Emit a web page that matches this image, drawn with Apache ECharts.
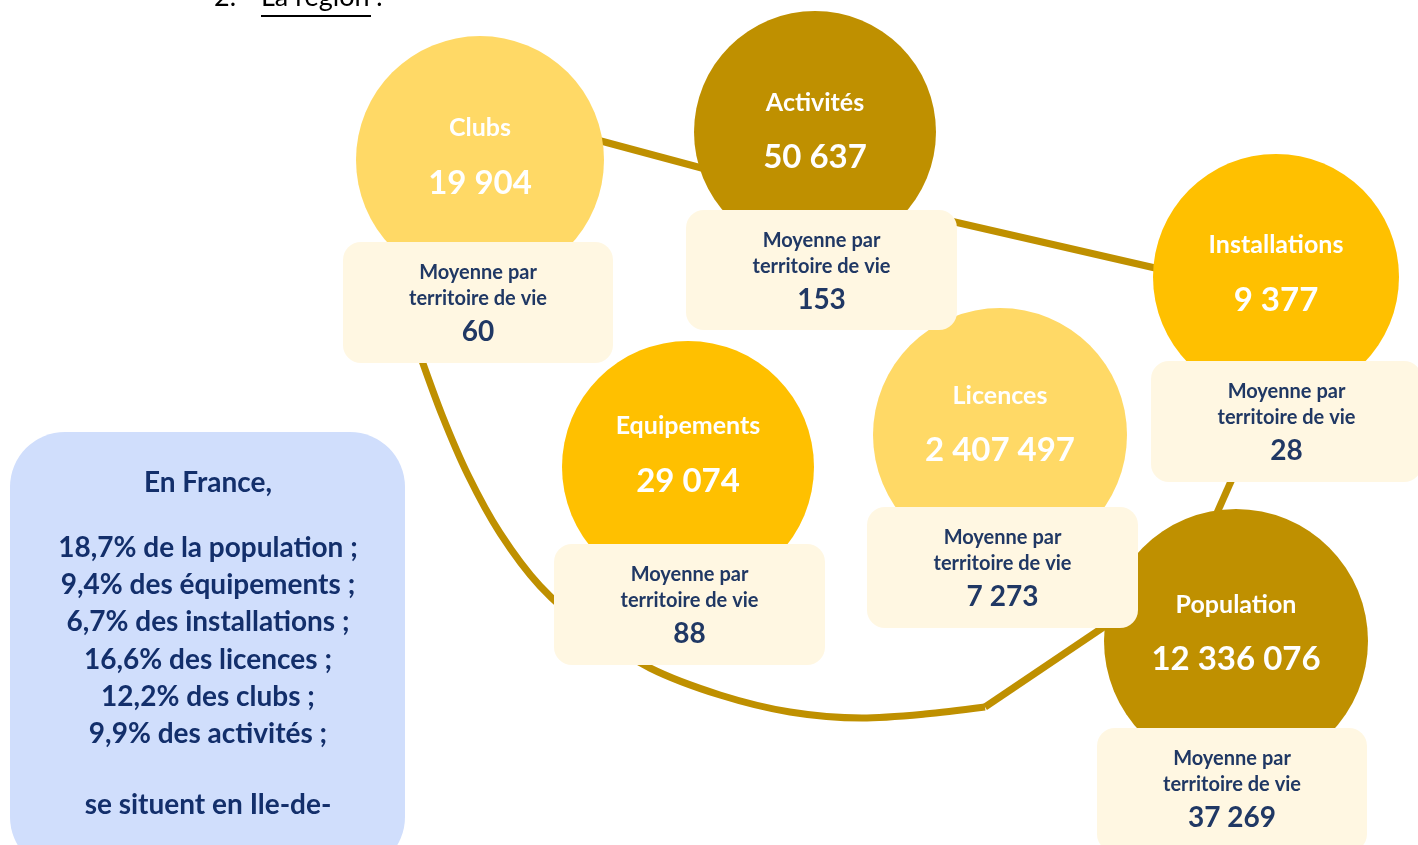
<!DOCTYPE html>
<html>
<head>
<meta charset="utf-8">
<script src="https://cdn.jsdelivr.net/npm/echarts@6/dist/echarts.min.js"></script>
<style>
html,body{margin:0;padding:0;background:#fff;}
#main{width:1418px;height:845px;}
</style>
</head>
<body>
<div id="main"></div>
<script>
// indicateurs de la région
var names = ['Clubs', 'Activités', 'Installations', 'Licences', 'Equipements', 'Population'];
var totals = [19904, 50637, 9377, 2407497, 29074, 12336076];
var averages = [60, 153, 28, 7273, 88, 37269];
var franceTitle = 'En France,';
var franceLines = ['18,7% de la population ;', '9,4% des équipements ;', '6,7% des installations ;',
    '16,6% des licences ;', '12,2% des clubs ;', '9,9% des activités ;'];
var franceEnd = 'se situent en Ile-de-';

// mise en page (pixels)
var centers = [[480, 160], [815, 132], [1276, 277], [1000, 435], [688, 467], [1236, 641]];
var radius = [124, 121, 123, 127, 126, 132];
var colors = ['#FFD966', '#BF9000', '#FFC000', '#FFD966', '#FFC000', '#BF9000'];
var labelY = [128, 103, 245, 396, 426, 605];
var valueY = [183, 157, 300, 450, 481, 659];
var boxes = [[343, 242, 270, 121], [686, 210, 271, 120], [1151, 361, 271, 121],
    [867, 507, 271, 121], [554, 544, 271, 121], [1097, 728, 270, 124]];
var linkCurve = [[420, 355], [442, 415], [468, 475], [500, 533], [540, 586], [590, 630],
    [650, 668], [720, 695], [790, 712], [862, 718], [925, 714], [985, 707]];
var linkSegments = [
    [[560, 130], [750, 181]],
    [[920, 214], [1190, 276]],
    [[1236, 470], [1205, 540]],
    [[985, 707], [1120, 616]]
];

var fmt = function(n) {
    return String(n).replace(/\B(?=(\d{3})+(?!\d))/g, ' ');
};
var navy = '#203864';
var gold = '#BF9000';
var font = 'Lato';

var myChart = echarts.init(document.getElementById('main'));

var series = [];
series.push({
    type: 'line', data: linkCurve, smooth: 0.3, showSymbol: false, z: 1,
    lineStyle: { color: gold, width: 7 }, silent: true
});
linkSegments.forEach(function(seg) {
    series.push({
        type: 'line', data: seg, showSymbol: false, z: 1,
        lineStyle: { color: gold, width: 7 }, silent: true
    });
});
series.push({
    type: 'scatter', z: 2, silent: true,
    data: names.map(function(n, i) {
        return {
            value: centers[i],
            symbolSize: radius[i] * 2,
            itemStyle: { color: colors[i], opacity: 1 }
        };
    })
});
series.push({
    type: 'custom', z: 3, silent: true,
    data: names.map(function(n, i) { return [i]; }),
    renderItem: function(params, api) {
        var i = api.value(0);
        var b = boxes[i];
        var p = api.coord([b[0], b[1]]);
        var c = api.coord(centers[i]);
        var cx = p[0] + b[2] / 2;
        var txt = function(s, x, y, size, color) {
            return { type: 'text', x: x, y: y,
                style: { text: s, fill: color, fontFamily: font, fontWeight: 'bold', fontSize: size, align: 'center', verticalAlign: 'middle' } };
        };
        return {
            type: 'group',
            children: [
                txt(names[i], c[0], api.coord([0, labelY[i]])[1], 25, '#fff'),
                txt(fmt(totals[i]), c[0], api.coord([0, valueY[i]])[1], 33, '#fff'),
                { type: 'rect', shape: { x: p[0], y: p[1], width: b[2], height: b[3], r: 18 },
                  style: { fill: '#FFF7E2' } },
                txt('Moyenne par', cx, p[1] + 31, 20, navy),
                txt('territoire de vie', cx, p[1] + 57, 20, navy),
                txt(fmt(averages[i]), cx, p[1] + 90, 28, navy)
            ]
        };
    }
});

var graphics = [
    { type: 'text', left: 214, top: -16, style: { text: '2.', fill: '#000', font: '27px Lato' } },
    { type: 'text', left: 261, top: -16, style: { text: 'La région', fill: '#000', font: '27px Lato' } },
    { type: 'text', left: 376, top: -16, style: { text: ':', fill: '#000', font: '27px Lato' } },
    { type: 'line', shape: { x1: 261, y1: 16, x2: 371, y2: 16 }, style: { stroke: '#000', lineWidth: 2 } },
    { type: 'rect', shape: { x: 10, y: 432, width: 395, height: 440, r: 55 }, style: { fill: '#D0DEFC' }, z: 0 }
];
var textLines = [[franceTitle, 483]];
franceLines.forEach(function(t, i) { textLines.push([t, 548 + i * 37.2]); });
textLines.push([franceEnd, 805]);
textLines.forEach(function(t) {
    graphics.push({
        type: 'text', x: 208, y: t[1], z: 1,
        style: { text: t[0], fill: '#132f6b', fontFamily: font, fontWeight: 'bold', fontSize: 28, align: 'center', verticalAlign: 'middle' }
    });
});

var option = {
    animation: false,
    grid: { left: 0, right: 0, top: 0, bottom: 0 },
    xAxis: { type: 'value', min: 0, max: 1418, show: false },
    yAxis: { type: 'value', min: 0, max: 845, inverse: true, show: false },
    graphic: graphics,
    series: series
};
myChart.setOption(option);
</script>
</body>
</html>
